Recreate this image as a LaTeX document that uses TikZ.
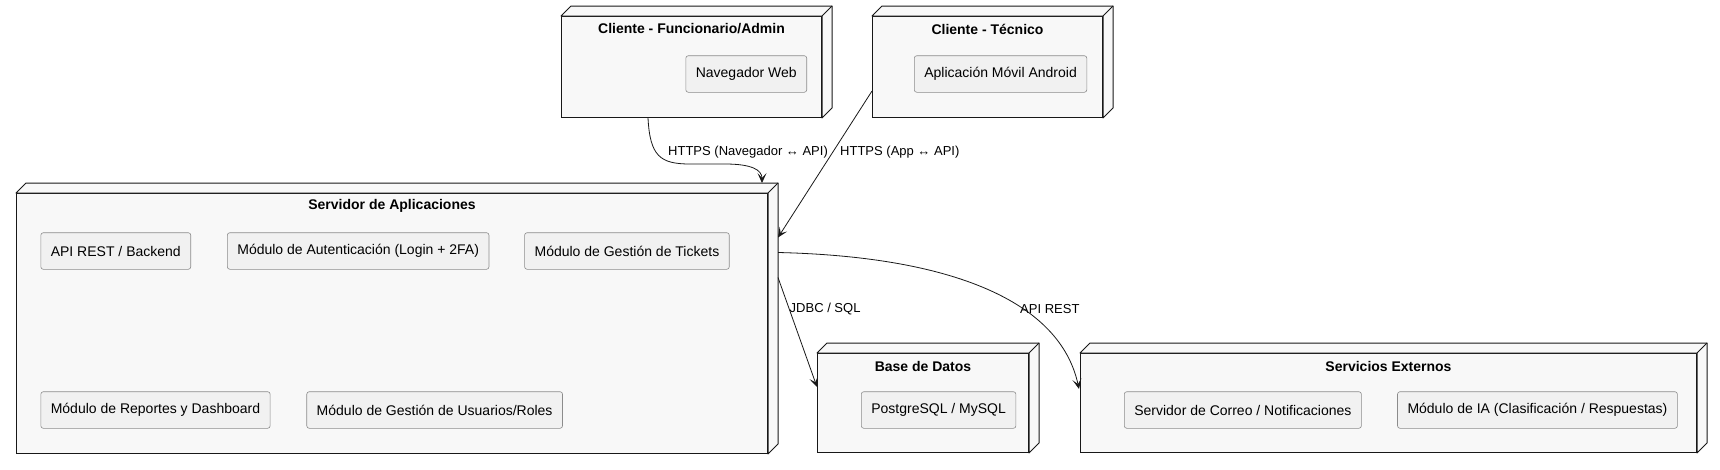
\documentclass[tikz,border=0pt]{standalone}
\usepackage{fontspec}
\setmainfont{Liberation Sans}
\usetikzlibrary{positioning,calc,arrows.meta}
\definecolor{fondo}{HTML}{F8F8F8}
\definecolor{relleno}{HTML}{F1F1F1}
\definecolor{linea}{HTML}{181818}
\definecolor{borde}{HTML}{8C8C8C}
\tikzset{
  nodo/.style={draw=linea, fill=fondo, line width=1pt, anchor=north west, inner sep=0pt},
  cara/.style={draw=linea, fill=fondo, line width=1pt, line join=round},
  titulo/.style={font=\fontsize{14}{16}\selectfont\bfseries, inner sep=0pt},
  modulo/.style={draw=borde, fill=relleno, rounded corners=2.5pt, line width=0.6pt,
    minimum height=36.6pt, inner xsep=10pt, anchor=west, font=\fontsize{14}{16}\selectfont},
  enlace/.style={draw=linea, line width=0.8pt, -{Stealth[length=10pt,width=9pt,inset=5pt]}},
  etiqueta/.style={font=\fontsize{13}{15}\selectfont, anchor=west, inner sep=0pt},
}
% top and side faces of a node box
\newcommand{\caras}[1]{%
  \draw[cara] (#1.north west) -- ++(10,-10) -- ($(#1.north east)+(10,-10)$)
    -- ($(#1.south east)+(10,-10)$) -- (#1.south east) -- (#1.north east) -- cycle;
  \draw[cara] (#1.north east) -- ++(10,-10);
}
\begin{document}
\begin{tikzpicture}[x=1pt,y=-1pt]
  \useasboundingbox (0,0) rectangle (1720,469);
  % nodes
  \node[nodo, minimum width=260pt, minimum height=101pt] (cf) at (561,16) {};
  \node[nodo, minimum width=230pt, minimum height=101pt] (ct) at (872,16) {};
  \node[nodo, minimum width=751pt, minimum height=260pt] (sv) at (16,193) {};
  \node[nodo, minimum width=211pt, minimum height=99pt] (bd) at (817,353) {};
  \node[nodo, minimum width=616pt, minimum height=99pt] (se) at (1080,353) {};
  \caras{cf} \caras{ct} \caras{sv} \caras{bd} \caras{se}
  \node[titulo] (cf-t) at ($(cf.north)+(0,13)$) {Cliente - Funcionario/Admin};
  \node[titulo] (ct-t) at ($(ct.north)+(0,13)$) {Cliente - Técnico};
  \node[titulo] (sv-t) at ($(sv.north)+(0,13)$) {Servidor de Aplicaciones};
  \node[titulo] (bd-t) at ($(bd.north)+(0,13)$) {Base de Datos};
  \node[titulo] (se-t) at ($(se.north)+(0,13)$) {Servicios Externos};
  % modules
  \node[modulo] (nav) at (685.5,74) {Navegador Web};
  \node[modulo] (app) at (914,74) {Aplicación Móvil Android};
  \node[modulo] (api) at (40.5,251) {API REST / Backend};
  \node[modulo, right=36pt of api] (aut) {Módulo de Autenticación (Login + 2FA)};
  \node[modulo, right=35pt of aut] (tic) {Módulo de Gestión de Tickets};
  \node[modulo] (rep) at (40.5,410) {Módulo de Reportes y Dashboard};
  \node[modulo, right=36pt of rep] (usu) {Módulo de Gestión de Usuarios/Roles};
  \node[modulo] (pg) at (861,410) {PostgreSQL / MySQL};
  \node[modulo] (cor) at (1124,410) {Servidor de Correo / Notificaciones};
  \node[modulo, right=35.5pt of cor] (ia) {Módulo de IA (Clasificación / Respuestas)};
  % connections
  \draw[enlace] ($(cf.south west)+(87,0)$) .. controls +(2,38) and +(-30,0) .. ++(42,46)
    -- ++(35,0) .. controls +(27,0) and +(0,-13) .. ($(sv.north east)+(-6,-10)$);
  \draw[enlace] ($(ct.south west)+(0,-27)$) -- ($(sv.east)+(10,-86)$);
  \draw[enlace] ($(sv.east)+(10,-71)$) .. controls +(173,4) and +(-19,-88) .. ($(se.west)+(-1,-14)$);
  \draw[enlace] ($(sv.east)+(10,-46)$) -- ($(bd.west)+(0,-16)$);
  \node[etiqueta] (l-web) at (668,152) {HTTPS (Navegador ↔ API)};
  \node[etiqueta] (l-app) at (840,152) {HTTPS (App ↔ API)};
  \node[etiqueta] (l-sql) at (789.5,309) {JDBC / SQL};
  \node[etiqueta] (l-api) at (1020,309) {API REST};
\end{tikzpicture}
\end{document}
